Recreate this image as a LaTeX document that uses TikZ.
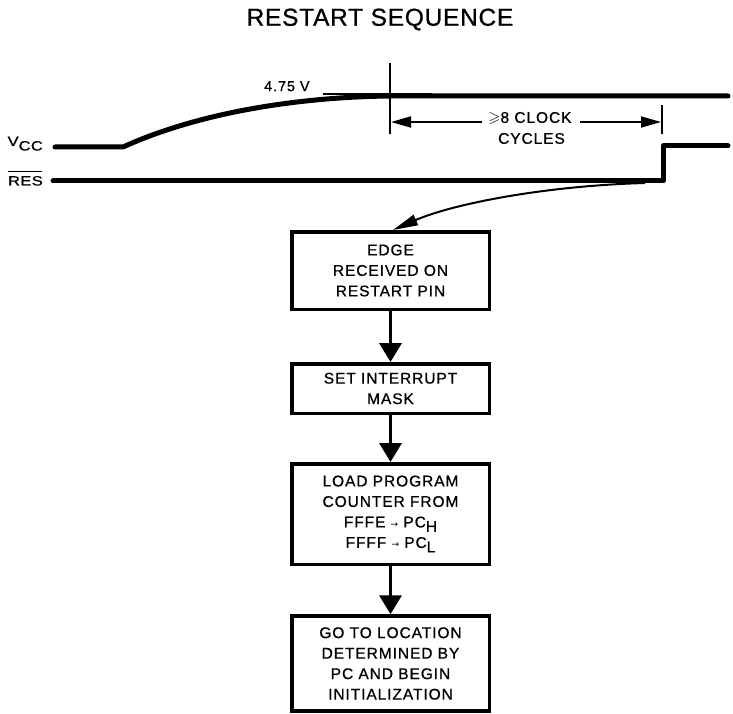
\documentclass[tikz,border=0pt]{standalone}
\usepackage{fontspec}
\usepackage{amssymb}
\setmainfont{Liberation Sans}[LetterSpace=6,FakeBold=0.8]
\newfontfamily\labelfont{Liberation Sans}[LetterSpace=3,FakeBold=0.8,FakeStretch=1.22]
\newfontfamily\arrowfont{DejaVu Sans}
\usetikzlibrary{arrows.meta}
\begin{document}
\begin{tikzpicture}[x=1pt,y=-1pt,
  box/.style={draw,line width=3.5pt,minimum width=197.5pt,inner sep=0pt,align=center,
    font=\fontsize{15.5}{20.5}\selectfont},
  sig/.style={line width=5pt,line cap=round,line join=miter},
  flowarrow/.style={line width=3.5pt,-{Triangle[width=22pt,length=19pt]}},
  dimarrow/.style={line width=1.8pt,-{Triangle[width=11pt,length=20pt]}},
  tickline/.style={line width=2.5pt},
  lbl/.style={inner sep=0pt,font=\fontsize{15.5}{20}\selectfont},
  sml/.style={inner sep=0pt,font=\labelfont\fontsize{13.5}{16}\selectfont}]
\useasboundingbox (0,0) rectangle (733,714);

% title
\node[inner sep=0pt,font=\fontsize{24.5}{28}\selectfont\addfontfeatures{LetterSpace=3}] (title) at (380,19.5) {RESTART SEQUENCE};

% signal labels
\node[sml,anchor=base east] (vcc) at (43,146) {V\raisebox{-4.5pt}{CC}};
\node[sml,anchor=base east] (res) at (43,185.5) {RES};
\draw[line width=1pt] ([xshift=0.5pt,yshift=4.5pt]res.north west) -- ([xshift=-1.5pt,yshift=4.5pt]res.north east);

% Vcc signal
\coordinate (v0) at (55,147);
\coordinate (v1) at (123,147);
\coordinate (v2) at (390,96);
\coordinate (v3) at (728,96);
\draw[sig] (v0) -- (v1) .. controls (200,112) and (300,97) .. (v2) -- (v3);
\coordinate (t0) at (323,94);
\coordinate (t1) at (432,94);
\draw[line width=1.8pt] (t0) -- (t1);
\node[inner sep=0pt,anchor=south west,font=\fontsize{14.5}{16}\selectfont] (v475) at (264,91.5) {4.75 V};

% RES signal
\coordinate (r0) at (53,181);
\coordinate (r1) at (663,181);
\coordinate (r2) at (663,146);
\coordinate (r3) at (728,146);
\draw[sig,line join=round] (r0) -- (r1) -- (r2) -- (r3);

% timing marks
\coordinate (m1top) at (390,63);
\coordinate (m1bot) at (390,134);
\coordinate (m2top) at (662,105);
\coordinate (m2bot) at (662,134);
\draw[tickline] (m1top) -- (m1bot);
\draw[tickline] (m2top) -- (m2bot);
\coordinate (m1) at (391,122);
\coordinate (m2) at (661,122);
\node[lbl] (clk1) at (530,118.5) {$\geqslant$8 CLOCK};
\node[lbl] (clk2) at (531.5,138.5) {CYCLES};
\draw[dimarrow] (482,122) -- (m1);
\draw[dimarrow] (580,122) -- (m2);

% flowchart
\node[box,minimum height=77.5pt] (b1) at (390.5,270.5) {EDGE\\RECEIVED ON\\RESTART PIN};
\node[box,minimum height=49.5pt] (b2) at (390.5,388.5) {SET INTERRUPT\\MASK};
\node[box,minimum height=100.5pt] (b3) at (390.5,514) {LOAD PROGRAM\\COUNTER FROM\\FFFE {\arrowfont\fontsize{9}{9}\selectfont →} PC\raisebox{-4.5pt}{H}\\FFFF {\arrowfont\fontsize{9}{9}\selectfont →} PC\raisebox{-4.5pt}{L}};
\node[box,minimum height=95pt] (b4) at (390.5,663.5) {GO TO LOCATION\\DETERMINED BY\\PC AND BEGIN\\INITIALIZATION};

\draw[flowarrow] (b1.south) -- (b2.north);
\draw[flowarrow] (b2.south) -- (b3.north);
\draw[flowarrow] (b3.south) -- (b4.north);

% edge arrow
\coordinate (e0) at (645,183);
\coordinate (e1) at (393,230);
\draw[line width=2pt,-{Triangle[width=11pt,length=25pt]}] (e0) .. controls (540,186) and (450,205) .. (e1);
\end{tikzpicture}
\end{document}
